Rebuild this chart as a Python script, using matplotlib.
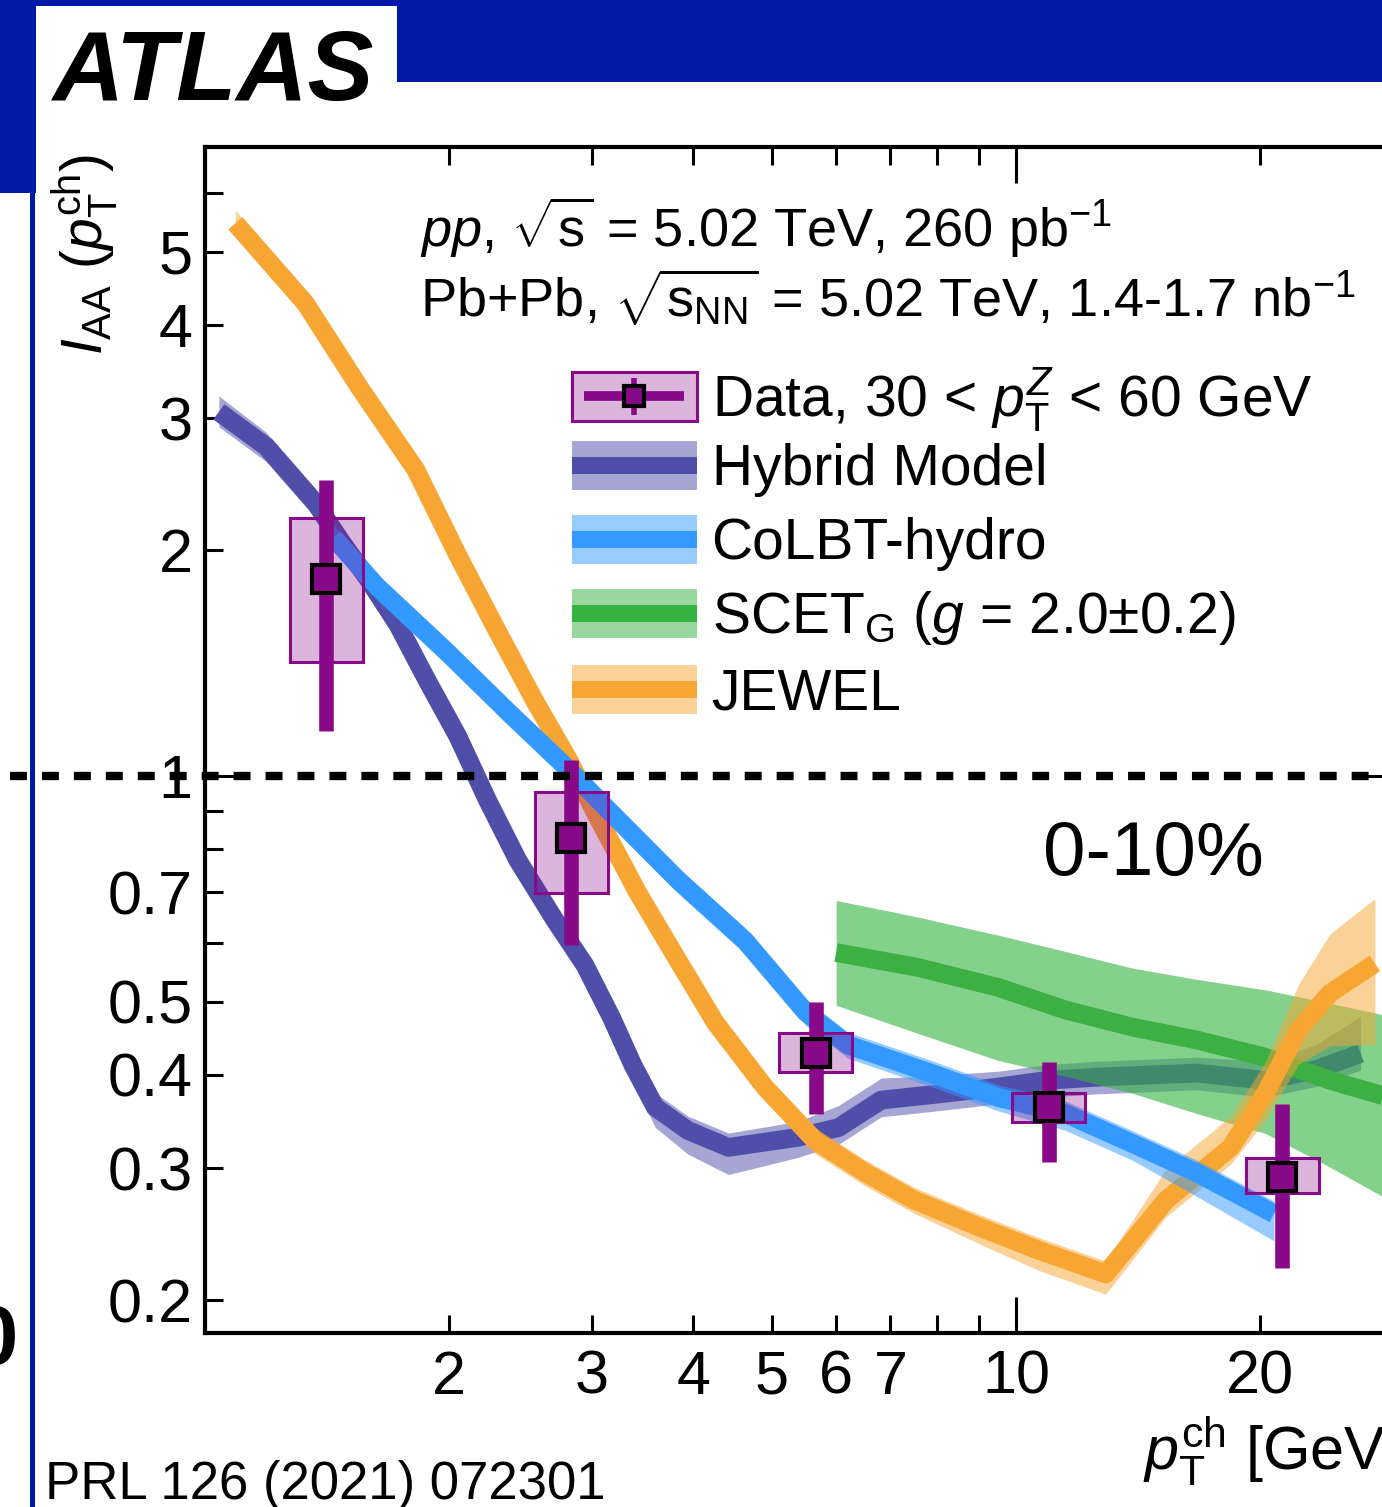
import numpy as np
import matplotlib
matplotlib.use('Agg')
import matplotlib.pyplot as plt
from matplotlib.patches import Rectangle
from matplotlib.lines import Line2D
from matplotlib.legend_handler import HandlerBase
from matplotlib.ticker import LogLocator, FuncFormatter
from matplotlib.colors import to_rgba

plt.rcParams['font.family'] = ['Liberation Sans', 'DejaVu Sans']
plt.rcParams['mathtext.fontset'] = 'custom'
plt.rcParams['mathtext.rm'] = 'Liberation Sans'
plt.rcParams['mathtext.it'] = 'Liberation Sans:italic'
plt.rcParams['mathtext.bf'] = 'Liberation Sans:bold'
plt.rcParams['lines.scale_dashes'] = False

# I_AA data points, Z-tagged, 0-10% centrality
data_x = [1.41, 2.83, 5.66, 10.98, 21.3]
data_y = [1.83, 0.826, 0.428, 0.362, 0.292]
stat_hi = [2.48, 1.05, 0.500, 0.416, 0.366]
stat_lo = [1.15, 0.595, 0.355, 0.306, 0.221]
sys_hi = [2.21, 0.952, 0.454, 0.378, 0.310]
sys_lo = [1.42, 0.698, 0.403, 0.346, 0.278]

# Hybrid model
hyb_x = [1.04, 1.19, 1.37, 1.47, 1.59, 1.73, 1.88, 2.05, 2.23, 2.43, 2.70, 2.94, 3.17, 3.37,
         3.59, 3.94, 4.42, 5.38, 6.04, 6.82, 7.85, 9.50, 10.9, 12.6, 16.7, 20.3, 23.4, 26.6]
hyb_y = [3.06, 2.75, 2.31, 2.06, 1.83, 1.59, 1.34, 1.13, 0.929, 0.773, 0.643, 0.560, 0.477, 0.412,
         0.362, 0.337, 0.320, 0.330, 0.340, 0.370, 0.376, 0.385, 0.393, 0.397, 0.402, 0.393, 0.406, 0.427]
hyb_up = [0.05, 0.045, 0.045, 0.045, 0.045, 0.045, 0.045, 0.045, 0.045, 0.045, 0.045, 0.045, 0.045, 0.045,
          0.045, 0.045, 0.045, 0.05, 0.07, 0.07, 0.06, 0.05, 0.05, 0.05, 0.05, 0.06, 0.08, 0.12]
hyb_dn = [0.045, 0.045, 0.045, 0.045, 0.045, 0.045, 0.045, 0.045, 0.045, 0.045, 0.045, 0.045, 0.045, 0.05,
          0.06, 0.07, 0.08, 0.06, 0.05, 0.05, 0.05, 0.05, 0.05, 0.05, 0.05, 0.05, 0.05, 0.05]

# CoLBT-hydro
colbt_x = [1.44, 1.63, 1.98, 2.38, 2.81, 3.17, 3.83, 4.63, 5.50, 6.21, 7.85, 9.50, 11.5, 13.9, 16.7, 20.8]
colbt_y = [2.08, 1.79, 1.47, 1.21, 1.02, 0.893, 0.727, 0.604, 0.485, 0.438, 0.402, 0.373, 0.355, 0.324, 0.296, 0.261]
colbt_up = [0.04] * 16
colbt_dn = [0.04, 0.04, 0.04, 0.04, 0.04, 0.04, 0.04, 0.04, 0.04, 0.04, 0.04, 0.04, 0.05, 0.05, 0.07, 0.08]

# SCET_G, g = 2.0 +- 0.2
scet_x = [6.0, 7.57, 9.5, 11.5, 13.9, 16.7, 20.3, 24.4, 29.6]
scet_y = [0.582, 0.556, 0.523, 0.488, 0.463, 0.445, 0.422, 0.393, 0.370]
scet_hi = [0.683, 0.649, 0.614, 0.584, 0.555, 0.536, 0.519, 0.498, 0.476]
scet_lo = [0.495, 0.454, 0.418, 0.398, 0.378, 0.355, 0.334, 0.301, 0.268]

# JEWEL
jew_x = [1.09, 1.33, 1.55, 1.82, 2.05, 2.28, 2.55, 2.81, 3.03, 3.42, 3.83, 4.26, 4.90, 5.65, 6.52,
         7.50, 9.05, 10.7, 12.9, 15.3, 18.4, 20.3, 22.3, 24.4, 27.7]
jew_y = [5.46, 4.27, 3.30, 2.56, 1.97, 1.58, 1.26, 1.05, 0.893, 0.698, 0.568, 0.469, 0.385, 0.327, 0.296,
         0.272, 0.250, 0.233, 0.217, 0.272, 0.320, 0.378, 0.459, 0.514, 0.563]
jew_up = [0.04] * 19 + [0.10, 0.10, 0.10, 0.15, 0.20, 0.22]
jew_dn = [0.04] * 16 + [0.05, 0.06, 0.06, 0.05, 0.05, 0.08, 0.10, 0.15, 0.22]

xtick_labels = {2: '2', 3: '3', 4: '4', 5: '5', 6: '6', 7: '7', 10: '10', 20: '20'}
ytick_labels = {0.2: '0.2', 0.3: '0.3', 0.4: '0.4', 0.5: '0.5', 0.7: '0.7',
                1: '1', 2: '2', 3: '3', 4: '4', 5: '5'}

purple = '#880a88'
hyb_c = '#4f4faa'
colbt_c = '#3399ff'
scet_c = '#3db043'
scet_band_c = '#33b340'
jew_c = '#f7a633'
slide_blue = '#0218a8'

W, H = 1382, 1507
fig = plt.figure(figsize=(W / 100, H / 100), dpi=100)


def fx(px):
    return px / W


def fy(py):
    return 1 - py / H


# slide decoration
fig.add_artist(Rectangle((0, fy(82)), 1, 82 / H, transform=fig.transFigure,
                         color=slide_blue, lw=0, zorder=-3))
fig.add_artist(Rectangle((0, fy(193)), fx(36), 193 / H, transform=fig.transFigure,
                         color=slide_blue, lw=0, zorder=-3))
fig.add_artist(Rectangle((fx(36), fy(82)), fx(397 - 36), 76 / H, transform=fig.transFigure,
                         color='white', lw=0, zorder=-2))
fig.add_artist(Rectangle((fx(30), 0), fx(5), fy(193), transform=fig.transFigure,
                         color=slide_blue, lw=0, zorder=-3))

ax = fig.add_axes([fx(205), fy(1333), 1198 / W, 1186 / H])
ax.set_xscale('log')
ax.set_yscale('log')
ax.set_xlim(1, 30)
ax.set_ylim(0.181, 6.9)

lw_c = 13.5


def model(x, y, up, dn, color, z):
    x = np.array(x)
    y = np.array(y)
    ax.fill_between(x, y * (1 - np.array(dn)), y * (1 + np.array(up)),
                    color=color, alpha=0.5, lw=0, zorder=z)
    ax.plot(x, y, color=color, lw=lw_c, solid_capstyle='butt', solid_joinstyle='round', zorder=z + 0.1)


model(hyb_x, hyb_y, hyb_up, hyb_dn, hyb_c, 2)
ax.fill_between(scet_x, scet_lo, scet_hi, color=scet_band_c, alpha=0.6, lw=0, zorder=3)
ax.plot(scet_x, scet_y, color=scet_c, lw=lw_c, solid_capstyle='butt', zorder=3.1)
model(jew_x, jew_y, jew_up, jew_dn, jew_c, 4)
model(colbt_x, colbt_y, colbt_up, colbt_dn, colbt_c, 5)

# data: systematic boxes, statistical bars, markers
box_half = 10 ** 0.045
dx = np.array(data_x)
ax.bar(dx / box_half, np.array(sys_hi) - np.array(sys_lo), width=dx * box_half - dx / box_half,
       bottom=sys_lo, align='edge', facecolor=to_rgba(purple, 0.3), edgecolor=purple,
       linewidth=2.2, zorder=6)
ax.vlines(data_x, stat_lo, stat_hi, color=purple, lw=10.5, zorder=7)
ax.plot(data_x, data_y, ls='none', marker='s', ms=20, mfc=purple, mec='black', mew=3, zorder=8)

# unity reference line
ax.plot([-0.163, 1.02], [1, 1], transform=ax.get_yaxis_transform(), clip_on=False,
        color='black', lw=6, dashes=(12.2, 10.8), zorder=9)

# axes styling
for s in ax.spines.values():
    s.set_linewidth(3)
ax.xaxis.set_major_locator(LogLocator(base=10))
ax.xaxis.set_minor_locator(LogLocator(base=10, subs=np.arange(2, 10)))
ax.yaxis.set_major_locator(LogLocator(base=10))
ax.yaxis.set_minor_locator(LogLocator(base=10, subs=np.arange(2, 10)))


def label_fmt(labels):
    def f(v, pos):
        for k, s in labels.items():
            if abs(v - k) < 1e-6 * k:
                return s
        return ''
    return FuncFormatter(f)


for axis, labels in ((ax.xaxis, xtick_labels), (ax.yaxis, ytick_labels)):
    axis.set_major_formatter(label_fmt(labels))
    axis.set_minor_formatter(label_fmt(labels))

ax.tick_params(which='both', direction='in', top=True, right=True, width=2.2, labelsize=44)
ax.tick_params(which='major', length=26)
ax.tick_params(which='minor', length=13)
ax.tick_params(axis='y', which='both', pad=9)
ax.tick_params(axis='x', which='both', pad=12)


# legend
class BandKey:
    def __init__(self, color):
        self.color = color


class DataKey:
    pass


class BandHandler(HandlerBase):
    def create_artists(self, legend, key, xd, yd, w, h, fs, trans):
        light = Rectangle((-xd, -yd), w, h, facecolor=to_rgba(key.color, 0.5), lw=0, transform=trans)
        dark = Rectangle((-xd, -yd + 0.325 * h), w, 0.35 * h, facecolor=key.color, lw=0, transform=trans)
        return [light, dark]


class DataHandler(HandlerBase):
    def create_artists(self, legend, key, xd, yd, w, h, fs, trans):
        box = Rectangle((-xd, -yd), w, h, facecolor=to_rgba(purple, 0.3), edgecolor=purple,
                        lw=2.2, transform=trans)
        hl = Line2D([-xd + 0.1 * w, -xd + 0.9 * w], [-yd + h / 2] * 2, color=purple, lw=7,
                    solid_capstyle='butt', transform=trans)
        vl = Line2D([-xd + w / 2] * 2, [-yd + 0.12 * h, -yd + 0.88 * h], color=purple, lw=4,
                    solid_capstyle='butt', transform=trans)
        mk = Line2D([-xd + w / 2], [-yd + h / 2], ls='none', marker='s', ms=15, mfc=purple,
                    mec='black', mew=3, transform=trans)
        return [box, hl, vl, mk]


leg_style = dict(loc='upper left', bbox_transform=fig.transFigure, frameon=False, fontsize=41,
                 handlelength=2.19, handleheight=0.96, handletextpad=0.26,
                 borderpad=0, borderaxespad=0)

leg_data = ax.legend([DataKey()], [r'Data, 30 < $p_{\mathrm{T}}^{Z}$ < 60 GeV'],
                     handler_map={DataKey: DataHandler()},
                     bbox_to_anchor=(fx(572), fy(365)), **leg_style)
ax.add_artist(leg_data)

model_keys = [BandKey(hyb_c), BandKey(colbt_c), BandKey(scet_band_c), BandKey(jew_c)]
model_names = ['Hybrid Model', 'CoLBT-hydro', r'SCET$_{\mathrm{G}}$ ($g$ = 2.0$\pm$0.2)', 'JEWEL']
ax.legend(model_keys, model_names, handler_map={BandKey: BandHandler()},
          bbox_to_anchor=(fx(572), fy(441)), labelspacing=0.31, **leg_style)

# header and labels
fig.text(fx(420), fy(247), r'$pp$, $\sqrt{\mathrm{s}}$ = 5.02 TeV, 260 pb$^{-1}$',
         fontsize=39, va='baseline', ha='left')
fig.text(fx(420), fy(318), r'Pb+Pb, $\sqrt{\mathrm{s}_{\mathrm{NN}}}$ = 5.02 TeV, 1.4-1.7 nb$^{-1}$',
         fontsize=39, va='baseline', ha='left')
fig.text(fx(85), fy(255), r'$I_{\mathrm{AA}}$ ($p_{\mathrm{T}}^{\mathrm{ch}}$)', rotation=90,
         fontsize=41, ha='center', va='center')
fig.text(fx(1143), fy(1470), r'$p_{\mathrm{T}}^{\mathrm{ch}}$ [GeV]', fontsize=44,
         ha='left', va='baseline')
fig.text(fx(1043), fy(875), '0-10%', fontsize=55, ha='left', va='baseline')
fig.text(fx(52), fy(100), 'ATLAS', fontsize=71, fontweight='bold', fontstyle='italic',
         ha='left', va='baseline')
fig.text(fx(45), fy(1499), 'PRL 126 (2021) 072301', fontsize=38, ha='left', va='baseline')
fig.text(fx(18), fy(1342), '0', fontsize=60, fontweight='bold', ha='right', va='center')

fig.savefig('out.png', dpi=100)
